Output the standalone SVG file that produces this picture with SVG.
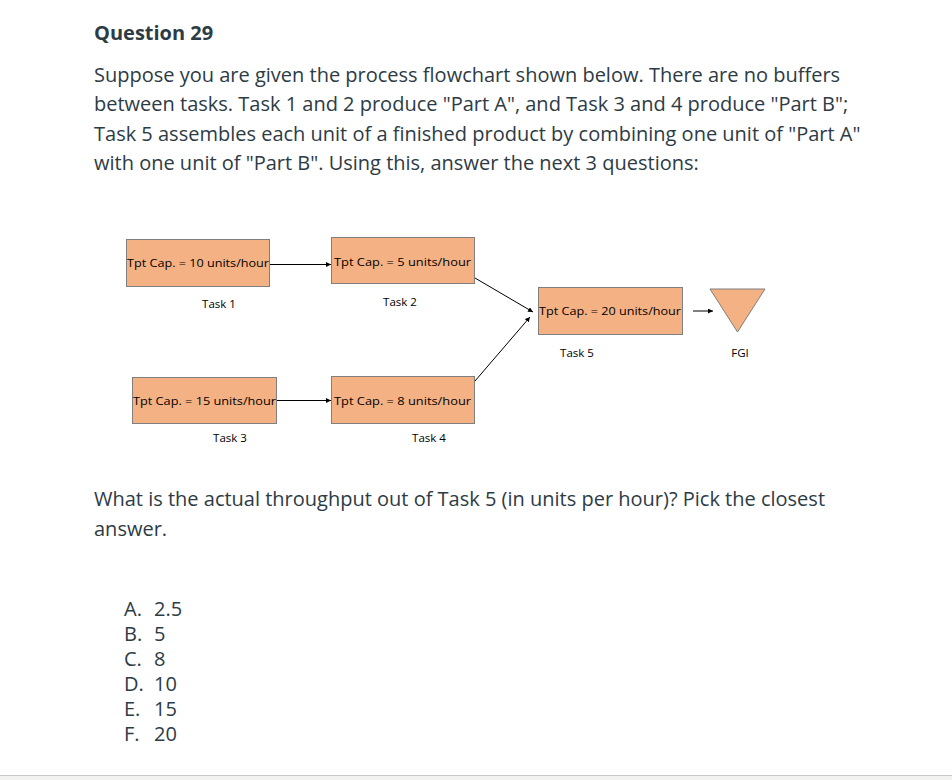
<svg xmlns="http://www.w3.org/2000/svg" width="952" height="780" viewBox="0 0 952 780">
<style>
.body{font-family:"Open Sans","Noto Sans",sans-serif;font-size:20px;fill:#2d3b45}
.title{font-family:"Open Sans","Noto Sans",sans-serif;font-size:20px;font-weight:bold;fill:#2d3b45}
.box{fill:#f4b183;stroke:#7f7f7f;stroke-width:1}
.bt{font-family:"Open Sans","Noto Sans",sans-serif;font-size:11.5px;fill:#000}
.lbl{font-family:"Open Sans","Noto Sans",sans-serif;font-size:11.5px;fill:#000;text-anchor:middle}
.conn{stroke:#000;stroke-width:1;fill:none;marker-end:url(#ah)}
</style>
<defs>
<marker id="ah" viewBox="0 0 6 6" refX="6" refY="3" markerWidth="5" markerHeight="5" markerUnits="userSpaceOnUse" orient="auto">
<path d="M0,0 L6,3 L0,6 Z" fill="#000"/>
</marker>
</defs>
<rect x="0" y="0" width="952" height="780" fill="#fff"/>
<rect x="0" y="775" width="952" height="5" fill="#f2f2f0"/>
<line x1="0" y1="775.5" x2="952" y2="775.5" stroke="#c8c8c8" stroke-width="1"/>

<text class="title" x="94" y="40">Question 29</text>
<text class="body" x="94" y="82">Suppose you are given the process flowchart shown below. There are no buffers</text>
<text class="body" x="94" y="111">between tasks. Task 1 and 2 produce "Part A", and Task 3 and 4 produce "Part B";</text>
<text class="body" x="94" y="141">Task 5 assembles each unit of a finished product by combining one unit of "Part A"</text>
<text class="body" x="94" y="170">with one unit of "Part B". Using this, answer the next 3 questions:</text>

<g id="connectors">
<line class="conn" x1="269" y1="264.5" x2="331" y2="264.5"/>
<line class="conn" x1="276" y1="400.5" x2="331" y2="400.5"/>
<line class="conn" x1="475" y1="278" x2="533" y2="312"/>
<line class="conn" x1="475" y1="381" x2="530" y2="317"/>
<line class="conn" x1="693" y1="311" x2="713" y2="311"/>
</g>

<g id="task1">
<rect class="box" x="126.5" y="239.5" width="143" height="47"/>
<text class="bt" x="127" y="267" textLength="142" lengthAdjust="spacingAndGlyphs">Tpt Cap. = 10 units/hour</text>
<text class="lbl" x="219" y="308">Task 1</text>
</g>
<g id="task2">
<rect class="box" x="331.5" y="237.5" width="143" height="46"/>
<text class="bt" x="334" y="266" textLength="137" lengthAdjust="spacingAndGlyphs">Tpt Cap. = 5 units/hour</text>
<text class="lbl" x="400" y="306">Task 2</text>
</g>
<g id="task3">
<rect class="box" x="132.5" y="377.5" width="144" height="46"/>
<text class="bt" x="133" y="405" textLength="143" lengthAdjust="spacingAndGlyphs">Tpt Cap. = 15 units/hour</text>
<text class="lbl" x="230" y="442">Task 3</text>
</g>
<g id="task4">
<rect class="box" x="331.5" y="376.5" width="143" height="47"/>
<text class="bt" x="334" y="405" textLength="137" lengthAdjust="spacingAndGlyphs">Tpt Cap. = 8 units/hour</text>
<text class="lbl" x="429" y="442">Task 4</text>
</g>
<g id="task5">
<rect class="box" x="538.5" y="287.5" width="144" height="47"/>
<text class="bt" x="539" y="315" textLength="142" lengthAdjust="spacingAndGlyphs">Tpt Cap. = 20 units/hour</text>
<text class="lbl" x="577" y="357">Task 5</text>
</g>
<g id="fgi">
<polygon class="box" points="710,289 765,289 737.5,332"/>
<text class="lbl" x="740" y="357">FGI</text>
</g>

<text class="body" x="94" y="506">What is the actual throughput out of Task 5 (in units per hour)? Pick the closest</text>
<text class="body" x="94" y="536">answer.</text>

<g class="body">
<text x="124" y="616">A.</text><text x="154" y="616">2.5</text>
<text x="124" y="641">B.</text><text x="154" y="641">5</text>
<text x="124" y="666">C.</text><text x="154" y="666">8</text>
<text x="124" y="691">D.</text><text x="154" y="691">10</text>
<text x="124" y="716">E.</text><text x="154" y="716">15</text>
<text x="124" y="741">F.</text><text x="154" y="741">20</text>
</g>
</svg>
